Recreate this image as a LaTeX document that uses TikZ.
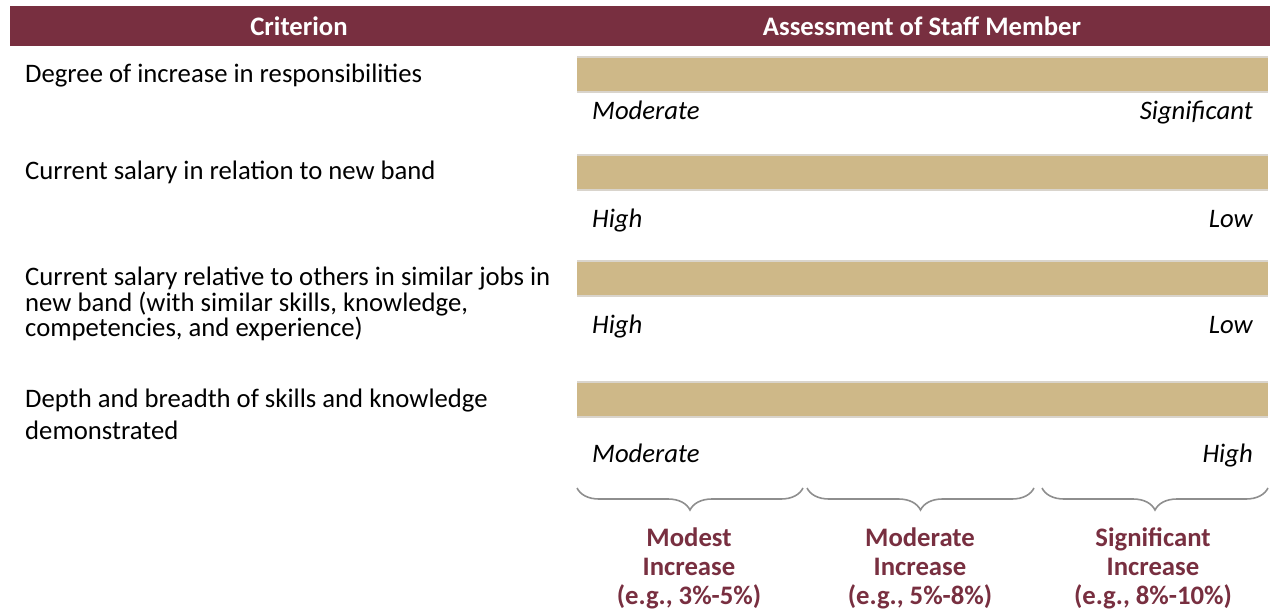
\documentclass[tikz,border=0pt]{standalone}
\usepackage{fontspec}
\setmainfont{Carlito}
\usetikzlibrary{decorations.pathreplacing}
\definecolor{garnet}{HTML}{782F40}
\definecolor{gold}{HTML}{CEB888}
\definecolor{edgegray}{HTML}{D9D4CC}
\definecolor{bracegray}{HTML}{8E8E8E}
\begin{document}
\begin{tikzpicture}[x=1pt,y=-1pt,
  txt/.style={font=\fontsize{26.7}{25.5}\selectfont, inner sep=0pt, align=left, anchor=west},
  endlbl/.style={font=\fontsize{26.7}{26}\selectfont\itshape, inner sep=0pt},
  hdr/.style={font=\fontsize{26.7}{26}\selectfont\bfseries, text=white, inner sep=0pt},
  bar/.style={fill=gold, draw=none, minimum width=691pt, minimum height=37pt, inner sep=0pt, anchor=north west},
  rim/.style={draw=edgegray, line width=2pt},
  brc/.style={draw=bracegray, line width=1.6pt, decorate, decoration={brace, mirror, amplitude=22pt}},
  res/.style={font=\fontsize{26.7}{29}\selectfont\bfseries, text=garnet, align=center, inner sep=0pt, anchor=north}
]
\useasboundingbox (0,0) rectangle (1270,610);
% header
\node[fill=garnet, minimum width=1260pt, minimum height=40pt, inner sep=0pt, anchor=north west] (head) at (10,6) {};
\node[hdr] (hcrit) at (299,26) {Criterion};
\node[hdr] (hass) at (922,26) {Assessment of Staff Member};
% left criteria
\node[txt, anchor=base west] (c1) at (25,83) {Degree of increase in responsibilities};
\node[txt, anchor=base west] (c2) at (25,179) {Current salary in relation to new band};
\node[txt] (c3) at (25,304) {Current salary relative to others in similar jobs in\\new band (with similar skills, knowledge,\\competencies, and experience)};
\node[txt, font=\fontsize{26.7}{32}\selectfont] (c4) at (25,414) {Depth and breadth of skills and knowledge\\demonstrated};
% bars
\foreach \n/\y in {1/56, 2/154, 3/260, 4/381}{
  \node[bar] (b\n) at (577,\y) {};
  \draw[rim] ([yshift=-1pt]b\n.north west) -- ([yshift=-1pt]b\n.north east);
  \draw[rim] ([yshift=1pt]b\n.south west) -- ([yshift=1pt]b\n.south east);
}
% scale labels
\node[endlbl, anchor=base west] (l1) at (592,120) {Moderate};
\node[endlbl, anchor=base east] (r1) at (1253,120) {Significant};
\node[endlbl, anchor=base west] (l2) at (592,227) {High};
\node[endlbl, anchor=base east] (r2) at (1253,227) {Low};
\node[endlbl, anchor=base west] (l3) at (592,333) {High};
\node[endlbl, anchor=base east] (r3) at (1253,333) {Low};
\node[endlbl, anchor=base west] (l4) at (592,462) {Moderate};
\node[endlbl, anchor=base east] (r4) at (1253,462) {High};
% braces
\coordinate (a1) at (577,488); \coordinate (a2) at (803,488);
\coordinate (a3) at (807,488); \coordinate (a4) at (1034,488);
\coordinate (a5) at (1042,488); \coordinate (a6) at (1268,488);
\draw[brc] (a1) -- (a2);
\draw[brc] (a3) -- (a4);
\draw[brc] (a5) -- (a6);
% results
\node[res] (o1) at (689,528) {Modest\\Increase\\(e.g., 3\%-5\%)};
\node[res] (o2) at (920,528) {Moderate\\Increase\\(e.g., 5\%-8\%)};
\node[res] (o3) at (1153,528) {Significant\\Increase\\(e.g., 8\%-10\%)};
\end{tikzpicture}
\end{document}
